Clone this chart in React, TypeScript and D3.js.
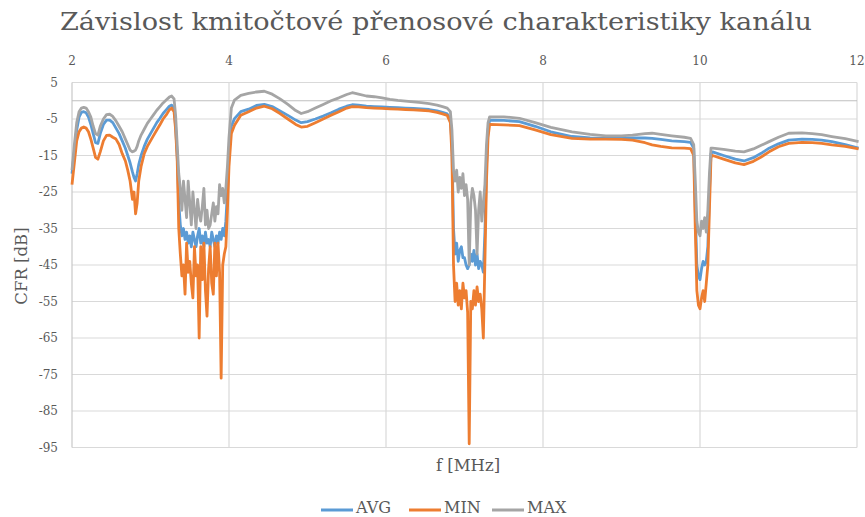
import React from 'react';
import * as d3 from 'd3';

// frequency [MHz] and channel frequency response [dB]
const freqMHz = [
  // 2 - 3.34
  2.0, 2.03, 2.06, 2.09, 2.12, 2.15, 2.18, 2.21, 2.24, 2.27,
  2.3, 2.33, 2.36, 2.4, 2.44, 2.48, 2.52, 2.56, 2.6, 2.64,
  2.68, 2.71, 2.74, 2.77, 2.79, 2.81, 2.83, 2.85, 2.88, 2.92,
  2.96, 3.0, 3.04, 3.08, 3.12, 3.16, 3.2, 3.24, 3.27, 3.3,
  3.32, 3.34,
  // notch ~3.4 - 4
  3.36, 3.38, 3.4, 3.42, 3.44, 3.46, 3.48, 3.5, 3.52, 3.54,
  3.56, 3.58, 3.6, 3.62, 3.64, 3.66, 3.68, 3.7, 3.72, 3.74,
  3.76, 3.78, 3.8, 3.82, 3.84, 3.86, 3.88, 3.9, 3.92, 3.94,
  3.96, 3.98, 4.0, 4.03, 4.07,
  // 4 - 6.8
  4.15, 4.25, 4.35, 4.45, 4.55, 4.65, 4.75, 4.85, 4.92, 5.0,
  5.1, 5.2, 5.3, 5.4, 5.5, 5.57, 5.65, 5.75, 5.85, 5.95,
  6.05, 6.15, 6.25, 6.35, 6.45, 6.55, 6.65, 6.72, 6.78, 6.82,
  // notch ~7
  6.84, 6.86, 6.88, 6.9, 6.92, 6.94, 6.96, 6.98, 7.0, 7.02,
  7.04, 7.06, 7.08, 7.1, 7.12, 7.14, 7.16, 7.18, 7.2, 7.22,
  7.24, 7.26, 7.28, 7.3, 7.32,
  // 7.3 - 9.9
  7.5, 7.7, 7.9, 8.1, 8.37, 8.6, 8.8, 9.0, 9.14, 9.3,
  9.39, 9.5, 9.64, 9.8, 9.88, 9.92,
  // notch ~10
  9.94, 9.96, 9.98, 10.0, 10.02, 10.04, 10.06, 10.08, 10.1, 10.12,
  10.14,
  // 10.2 - 12
  10.16, 10.3, 10.45, 10.56, 10.68, 10.78, 10.88, 11.0, 11.13, 11.3,
  11.43, 11.55, 11.68, 11.85, 12.02,
];

const avgDb = [
  -20, -14, -8, -4.5, -3.2, -3, -3.3, -4.5, -6.5, -9,
  -11.5, -11.7, -9, -6.5, -5.3, -5.3, -6, -7.5, -9, -11,
  -13, -15, -17, -19.5, -21, -22, -20, -17.5, -15, -12.5,
  -10.5, -9, -7.5, -6, -4.8, -3.5, -2.5, -1.5, -1.2, -2,
  -7, -15,
  -28, -34, -37, -35, -38, -36, -39, -37, -40, -36,
  -38, -40, -37, -35, -39, -37, -40, -36, -39, -38,
  -40, -36, -38, -40, -37, -39, -36, -38, -35, -37,
  -33, -25, -14, -7, -4.9,
  -3, -2.3, -1.3, -1, -1.6, -2.8, -4, -5.3, -6, -5.7,
  -5, -4.2, -3.3, -2.3, -1.5, -1.1, -1.2, -1.5, -1.6, -1.7,
  -1.8, -1.9, -2, -2.1, -2.2, -2.4, -2.8, -3.2, -3.6, -5,
  -12, -35, -42, -39, -44, -41, -40, -43, -43, -45,
  -46, -45, -42, -44, -41, -45, -42, -46, -44, -45,
  -47, -36, -18, -8, -5.3,
  -5.4, -5.7, -7, -8.5, -9.8, -10.2, -10.3, -10.3, -10.2, -10.2,
  -10.3, -10.6, -11, -11.2, -11.4, -13,
  -30, -45, -48, -49, -46, -44, -45, -44, -40, -25,
  -14.5,
  -14, -15, -16, -16.5, -15.6, -14.4, -13, -11.8, -10.8, -10.5,
  -10.6, -10.8, -11.2, -12, -13,
];

const minDb = [
  -23, -17, -11, -8.5, -7.5, -7.2, -7.5, -8.5, -10.5, -13,
  -15.5, -16, -14, -11, -9.5, -9.4, -10, -10.5, -12, -14.5,
  -16.5, -19, -22, -27, -25, -31, -28, -22, -18, -14.5,
  -12.5, -11, -9.5, -8, -6.6, -5, -3.9, -2.5, -2, -3,
  -8, -16,
  -35, -42, -48, -45, -53, -39, -47, -44, -50, -54,
  -40, -48, -45, -65, -40, -49, -39, -52, -59, -46,
  -40, -50, -53, -39, -48, -39, -47, -76, -45, -42,
  -40, -30, -18, -9, -6.7,
  -4, -3, -2, -1.5, -2.2, -3.5, -5, -6.5, -7.2, -7,
  -6, -5, -4, -3, -2, -1.6, -1.7, -1.9, -2, -2.1,
  -2.2, -2.3, -2.4, -2.5, -2.6, -2.8, -3.2, -3.6, -4, -6,
  -15, -45, -55, -50, -56, -52, -57, -50, -54, -52,
  -58, -94, -55, -57, -52, -56, -51, -55, -53, -57,
  -65, -44, -22, -10, -6.5,
  -6.6, -6.8, -8, -9.3, -10.3, -10.5, -10.5, -10.6, -10.8, -11.5,
  -12.1, -12.5, -12.9, -13, -13.1, -15,
  -35, -52, -56, -57, -54, -52, -55, -50, -45, -30,
  -15.5,
  -15, -16, -17, -17.5, -16.6, -15.4, -14, -12.6, -11.7, -11.4,
  -11.5, -11.7, -12.1, -12.5, -13.2,
];

const maxDb = [
  -19, -12, -6, -3, -2, -1.8, -2, -3, -4.5, -7,
  -9, -9.4, -7, -5, -3.8, -3.7, -4.3, -5.5, -7, -8.5,
  -10.5, -12, -13.5, -14, -13.8, -13.5, -12.5, -11, -9.4, -7.8,
  -6.2, -5, -3.8, -2.6, -1.6, -0.6, 0.2, 1, 1.3, 0.5,
  -4, -12,
  -20, -24, -30, -22, -27, -32, -22, -28, -34, -25,
  -30, -35, -27, -31, -33, -29, -24, -34, -30, -35,
  -34, -31, -28, -33, -29, -31, -23, -26, -24, -28,
  -24, -18, -10, -2, 0.2,
  1.5, 2, 2.4, 2.6, 1.8, 0.5, -1, -2.7, -3.5, -3,
  -2, -1, 0, 0.8, 1.7, 2.2, 1.8, 1.3, 1.1, 0.8,
  0.4, 0.1, -0.1, -0.3, -0.5, -0.8, -1.2, -1.6, -2, -3,
  -8, -19, -22, -19, -25, -21, -24, -20, -26, -23,
  -27, -45, -28, -24, -26, -30, -42, -30, -25, -33,
  -28, -23, -12, -6, -4.4,
  -4.4, -4.8, -6, -7.3, -8.5, -9.2, -9.6, -9.6, -9.4, -9,
  -8.9, -9.2, -9.6, -10, -10.3, -12,
  -22, -33, -36, -37, -33, -35, -32, -36, -30, -20,
  -13,
  -13, -13.3, -13.8, -14, -13.2, -12.2, -11.2, -10, -8.9, -8.8,
  -9, -9.3, -9.8, -10.4, -11.2,
];

const xTicks = [2, 4, 6, 8, 10, 12];
const yTicks = [5, -5, -15, -25, -35, -45, -55, -65, -75, -85, -95];

const seriesNames = ['AVG', 'MIN', 'MAX'];
const seriesColors = ['#5B9BD5', '#ED7D31', '#A5A5A5'];
const seriesValues = [avgDb, minDb, maxDb];

const width = 865;
const height = 517;
const font = "'DejaVu Serif', 'Liberation Serif', serif";
const textColor = '#595959';

export default function App() {
  const x = d3.scaleLinear().domain([2, 12]).range([72, 857]);
  const y = d3.scaleLinear().domain([-95, 5]).range([447.5, 82.5]);

  const line = (vals: number[]) =>
    d3
      .line<number>()
      .x((_, i) => x(freqMHz[i]))
      .y((d) => y(d))(vals) as string;

  // legend swatch starts
  const legendX = [321, 409, 492];

  return (
    <svg
      width={width}
      height={height}
      style={{ position: 'absolute', left: 0, top: 0, fontFamily: font }}
    >
      <rect width={width} height={height} fill="#fff" />

      <text
        x={436}
        y={30}
        textAnchor="middle"
        fontSize={25}
        fill={textColor}
        textLength={752}
        lengthAdjust="spacingAndGlyphs"
      >
        Závislost kmitočtové přenosové charakteristiky kanálu
      </text>

      {/* grid */}
      <g stroke="#d9d9d9" strokeWidth={1.2}>
        {yTicks.map((t) => (
          <line key={t} x1={x(2)} x2={x(12)} y1={y(t)} y2={y(t)} />
        ))}
        {xTicks.slice(1).map((t) => (
          <line key={t} x1={x(t)} x2={x(t)} y1={y(5)} y2={y(-95)} />
        ))}
      </g>
      <line x1={x(2)} x2={x(2)} y1={y(5)} y2={y(-95)} stroke="#c8c8c8" strokeWidth={1.2} />
      <line x1={x(2)} x2={x(12)} y1={y(0)} y2={y(0)} stroke="#bfbfbf" strokeWidth={1.2} />

      {/* tick labels */}
      <g fill={textColor} fontSize={12}>
        {xTicks.map((t) => (
          <text key={t} x={x(t)} y={65} textAnchor="middle">
            {t}
          </text>
        ))}
        {yTicks.map((t) => (
          <text key={t} x={58} y={y(t)} dy="0.35em" textAnchor="end">
            {t}
          </text>
        ))}
      </g>

      {/* series */}
      <g fill="none" strokeWidth={2.8} strokeLinejoin="round">
        {seriesValues.map((vals, i) => (
          <path key={seriesNames[i]} d={line(vals)} stroke={seriesColors[i]} />
        ))}
      </g>

      {/* axis titles */}
      <text
        transform="translate(27,266) rotate(-90)"
        textAnchor="middle"
        fontSize={16.5}
        fill={textColor}
      >
        CFR [dB]
      </text>
      <text x={468} y={471} textAnchor="middle" fontSize={16.5} fill={textColor}>
        f [MHz]
      </text>

      {/* legend */}
      <g fontSize={16} fill={textColor}>
        {seriesNames.map((name, i) => (
          <g key={name}>
            <line
              x1={legendX[i]}
              x2={legendX[i] + 32}
              y1={510}
              y2={510}
              stroke={seriesColors[i]}
              strokeWidth={3}
            />
            <text x={legendX[i] + 35} y={513}>
              {name}
            </text>
          </g>
        ))}
      </g>
    </svg>
  );
}
